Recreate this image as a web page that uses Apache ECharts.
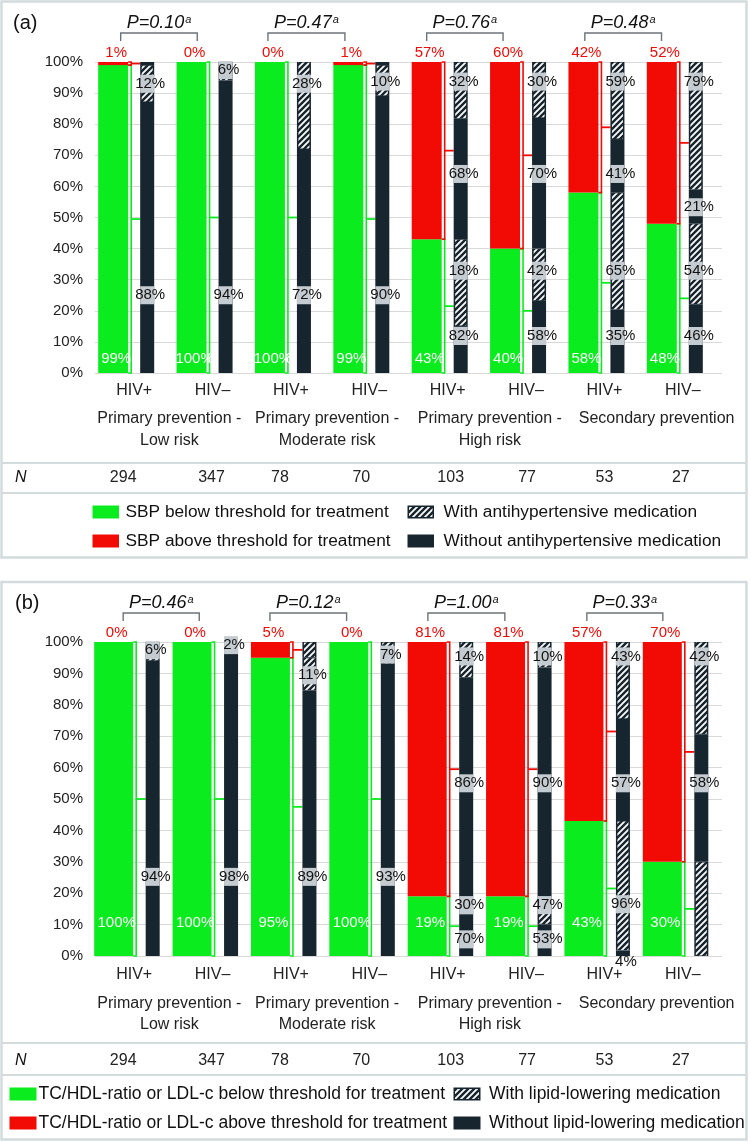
<!DOCTYPE html>
<html><head><meta charset="utf-8">
<script src="https://cdn.jsdelivr.net/npm/echarts@6/dist/echarts.min.js"></script>
<style>html,body{margin:0;padding:0;background:#fff}#c{width:751px;height:1142px}</style>
</head><body><div id="c"></div>
<script>
// ---------------- DATA ----------------
const categories = ['HIV+','HIV\u2013','HIV+','HIV\u2013','HIV+','HIV\u2013','HIV+','HIV\u2013'];
const groupLabels = ['Primary prevention -\nLow risk','Primary prevention -\nModerate risk','Primary prevention -\nHigh risk','Secondary prevention'];
const nValues = ['294','347','78','70','103','77','53','27'];

// Panel (a): SBP
const belowA = [99,100,100,99,43,40,58,48];
const aboveA = [1,0,0,1,57,60,42,52];
const belowWithDrawnA = [12,6,28,10,65,42,65,54];   // hatched share of "below" segment as drawn
const aboveWithDrawnA = [0,0,0,0,32,30,59,79];      // hatched share of "above" segment as drawn
const belowWithLblA = [12,6,28,10,18,42,65,54];
const belowWithoutLblA = [88,94,72,90,82,58,35,46];
const aboveWithLblA = [null,null,null,null,32,30,59,79];
const aboveWithoutLblA = [null,null,null,null,68,70,41,21];
const pValuesA = ['0.10','0.47','0.76','0.48'];
const legendA = ['SBP below threshold for treatment','SBP above threshold for treatment','With antihypertensive medication','Without antihypertensive medication'];

// Panel (b): lipids
const belowB = [100,100,95,100,19,19,43,30];
const aboveB = [0,0,5,0,81,81,57,70];
const belowWithDrawnB = [6,2,11,7,30,47,96,100];
const aboveWithDrawnB = [0,0,100,0,14,10,43,42];
const belowWithLblB = [6,2,11,7,30,47,96,null];
const belowWithoutLblB = [94,98,89,93,70,53,4,null];
const aboveWithLblB = [null,null,null,null,14,10,43,42];
const aboveWithoutLblB = [null,null,null,null,86,90,57,58];
const pValuesB = ['0.46','0.12','1.00','0.33'];
const legendB = ['TC/HDL-ratio or LDL-c below threshold for treatment','TC/HDL-ratio or LDL-c above threshold for treatment','With lipid-lowering medication','Without lipid-lowering medication'];

// ---------------- STYLE / LAYOUT ----------------
const GREEN = '#0bec1f', RED = '#f20a05', DARK = '#17252f', BOX = '#c5ccd1', BORDER = '#d4dbde';
const FONT = "'Liberation Sans', Arial, sans-serif";

function makeHatch() {
  const cv = document.createElement('canvas'); cv.width = 6; cv.height = 6;
  const g = cv.getContext('2d');
  g.fillStyle = DARK; g.fillRect(0,0,6,6);
  g.strokeStyle = '#ffffff'; g.lineWidth = 1.8;
  g.beginPath();
  g.moveTo(-1,7); g.lineTo(7,-1);
  g.moveTo(-4,4); g.lineTo(4,-4);
  g.moveTo(2,10); g.lineTo(10,2);
  g.stroke();
  return cv;
}
const HATCH = makeHatch();

const layoutA = {
  wideL:-36, wideR:-6, brk:3, narL:6, narR:20,
  whiteY:4.5,
  bwY:[93,97.4,93,93.7,32.9,32.9,32.9,32.9],
  bwoY:[25,25,25,25,11.9,11.9,11.9,11.9],
  awY:[0,0,0,0,93.7,93.7,93.7,93.7],
  awoY:[0,0,0,0,64,64,64,53.3],
  pOff:[[-13.5,-15.3],[-23,-24.4],[-21,-23],[-19.6,-21.3]]
};
const layoutB = {
  wideL:-40, wideR:-1, brk:3, narL:11.5, narR:25.5,
  whiteY:10.6,
  bwY:[97.4,99,89.4,96,16.2,16.2,16.5,0],
  bwoY:[25.2,25.2,25.2,25.2,5.3,5.3,-2,0],
  awY:[0,0,0,0,95.4,95.4,95.4,95.4],
  awoY:[0,0,0,0,55,55,55,55],
  pOff:[[-11,-13.3],[-21,-22.7],[-19.8,-21.2],[-17.6,-20]]
};
const nShift = [-11,-1,-11,-8,3,1,0,-2];
const groupShift = [-4,-3,3,13];

const P_A = {below:belowA, above:aboveA, bwd:belowWithDrawnA, awd:aboveWithDrawnA, bwl:belowWithLblA, bwol:belowWithoutLblA, awl:aboveWithLblA, awol:aboveWithoutLblA, p:pValuesA};
const P_B = {below:belowB, above:aboveB, bwd:belowWithDrawnB, awd:aboveWithDrawnB, bwl:belowWithLblB, bwol:belowWithoutLblB, awl:aboveWithLblB, awol:aboveWithoutLblB, p:pValuesB};

function rect(x,y,w,h,fill){ return {type:'rect', shape:{x:x,y:y,width:w,height:h}, style:{fill:fill}}; }

function makeBarRender(P, L) {
  return function(params, api) {
    const i = api.value(0);
    const base = api.coord([i, 0]);
    const cx = base[0], y0 = base[1];
    const yAt = v => api.coord([i, v])[1];
    const below = P.below[i], above = P.above[i];
    const wL = cx + L.wideL, wR = cx + L.wideR, nL = cx + L.narL, nR = cx + L.narR, nW = nR - nL;
    const bx = wR + L.brk;
    const ch = [];
    const yb = yAt(below), yt = yAt(below + above);
    if (below > 0) ch.push(rect(wL, yb, wR - wL, y0 - yb, GREEN));
    if (above > 0) ch.push(rect(wL, yt, wR - wL, yb - yt, RED));
    function bracket(yBot, yTop, color) {
      ch.push({type:'polyline', shape:{points:[[wR,yTop],[bx,yTop],[bx,yBot],[wR,yBot]]}, style:{stroke:color, lineWidth:1.6, fill:null}});
      const ym = (yBot + yTop) / 2;
      ch.push({type:'line', shape:{x1:bx, y1:ym, x2:nL, y2:ym}, style:{stroke:color, lineWidth:1.8}});
    }
    if (below > 0) bracket(y0, yb, GREEN);
    if (above > 0) bracket(yb, yt, RED);
    function seg(from, h, withPct) {
      if (h <= 0) return;
      const woH = h * (100 - withPct) / 100;
      const yA = yAt(from), yB = yAt(from + woH), yC = yAt(from + h);
      if (yA - yB > 0) ch.push(rect(nL, yB, nW, yA - yB, DARK));
      if (withPct > 0) {
        ch.push(rect(nL, yC, nW, yB - yC, DARK));
        ch.push({type:'rect', shape:{x:nL+1.5, y:yC+0.6, width:nW-3, height:Math.max(0, yB-yC-1.2)}, style:{fill:{image:HATCH, repeat:'repeat'}}});
      }
    }
    seg(0, below, P.bwd[i]);
    seg(below, above, P.awd[i]);
    function nlabel(val, yv) {
      if (val === null || val === undefined) return;
      const y = yAt(yv);
      if (yv >= 0) ch.push(rect(nL, y - 9, nW, 18, BOX));
      ch.push({type:'text', style:{text: val + '%', x: nL + nW/2 + 3, y: y, align:'center', verticalAlign:'middle', font:'15px ' + FONT, fill:'#111'}});
    }
    nlabel(P.bwl[i], L.bwY[i]);
    nlabel(P.bwol[i], L.bwoY[i]);
    nlabel(P.awl[i], L.awY[i]);
    nlabel(P.awol[i], L.awoY[i]);
    const wc = (wL + wR) / 2 + 3;
    ch.push({type:'text', style:{text: below + '%', x: wc, y: yAt(L.whiteY), align:'center', verticalAlign:'middle', font:'15px ' + FONT, fill:'#ffffff'}});
    ch.push({type:'text', style:{text: above + '%', x: wc, y: yAt(100) - 9, align:'center', verticalAlign:'middle', font:'15px ' + FONT, fill:RED}});
    return {type:'group', children: ch};
  };
}

function makePRender(P, L) {
  return function(params, api) {
    const g = api.value(2);
    const c1 = api.coord([2*g, 100]), c2 = api.coord([2*g+1, 100]);
    const x1 = c1[0] + L.pOff[g][0], x2 = c2[0] + L.pOff[g][1];
    const top = c1[1];
    const yh = top - 29, yv = top - 21;
    const ch = [];
    ch.push({type:'polyline', shape:{points:[[x1,yv],[x1,yh],[x2,yh],[x2,yv]]}, style:{stroke:'#6d7479', lineWidth:1.4, fill:null}});
    ch.push({type:'text', style:{
      text:'{p|P=' + P.p[g] + '}{s|a}', x:(x1 + x2)/2, y: top - 39, align:'center', verticalAlign:'middle',
      rich:{ p:{fontSize:18, fontStyle:'italic', fontFamily:FONT, fill:'#111'},
             s:{fontSize:11, fontStyle:'italic', fontFamily:FONT, fill:'#111', verticalAlign:'top', padding:[0,0,0,1]} }
    }});
    return {type:'group', children: ch};
  };
}

function xAxesFor(gi, hivMargin, groupMargin, groupLH) {
  return [
    {gridIndex:gi, type:'category', data:categories, axisLine:{show:false}, axisTick:{show:false},
     axisLabel:{interval:0, margin:hivMargin, fontSize:16, fontFamily:FONT, color:'#222', lineHeight:16}},
    {gridIndex:gi, type:'category', data:groupLabels.map((t,k)=>({value:t, textStyle:{padding:[0, groupShift[k] < 0 ? -2*groupShift[k] : 0, 0, groupShift[k] > 0 ? 2*groupShift[k] : 0]}})),
     position:'bottom', axisLine:{show:false}, axisTick:{show:false},
     axisLabel:{interval:0, margin:groupMargin, fontSize:16, fontFamily:FONT, color:'#222', lineHeight:groupLH}},
    {gridIndex:gi, type:'category', data:nValues.map((t,k)=>({value:t, textStyle:{padding:[0, nShift[k] < 0 ? -2*nShift[k] : 0, 0, nShift[k] > 0 ? 2*nShift[k] : 0]}})),
     position:'bottom', axisLine:{show:false}, axisTick:{show:false},
     axisLabel:{interval:0, margin:97, fontSize:16, fontFamily:FONT, color:'#222', lineHeight:16}}
  ];
}
function yAxisFor(gi) {
  return {gridIndex:gi, type:'value', min:0, max:100, interval:10,
    axisLine:{show:false}, axisTick:{show:false},
    splitLine:{lineStyle:{color:'#d9d9d9', width:1}},
    axisLabel:{formatter:'{value}%', fontSize:15, fontFamily:FONT, color:'#222', margin:12}};
}

function legendGraphics(L, rows, sw1x, t1x, sw2x, t2x, swW, fs) {
  const out = [];
  const swatchFills = [GREEN, RED];
  for (let r = 0; r < 2; r++) {
    const y = rows[r];
    out.push({type:'rect', shape:{x:sw1x, y:y-6.5, width:swW, height:13}, style:{fill:swatchFills[r]}});
    out.push({type:'text', style:{text:L[r], x:t1x, y:y, font:fs + 'px ' + FONT, fill:'#111', verticalAlign:'middle'}});
    out.push({type:'rect', shape:{x:sw2x, y:y-6.5, width:swW, height:13}, style:{fill:DARK}});
    if (r === 0) {
      out.push({type:'rect', shape:{x:sw2x+1.5, y:y-5, width:swW-3, height:10}, style:{fill:{image:HATCH, repeat:'repeat'}}});
    }
    out.push({type:'text', style:{text:L[2+r], x:t2x, y:y, font:fs + 'px ' + FONT, fill:'#111', verticalAlign:'middle'}});
  }
  return out;
}

const graphics = [
  {type:'rect', shape:{x:1.5, y:1.5, width:745, height:556}, style:{fill:null, stroke:BORDER, lineWidth:2.5}},
  {type:'line', shape:{x1:1.5, y1:463, x2:746.5, y2:463}, style:{stroke:BORDER, lineWidth:2}},
  {type:'line', shape:{x1:1.5, y1:493, x2:746.5, y2:493}, style:{stroke:BORDER, lineWidth:2}},
  {type:'rect', shape:{x:1.5, y:582, width:745, height:557.5}, style:{fill:null, stroke:BORDER, lineWidth:2.5}},
  {type:'line', shape:{x1:1.5, y1:1043, x2:746.5, y2:1043}, style:{stroke:BORDER, lineWidth:2}},
  {type:'line', shape:{x1:1.5, y1:1075, x2:746.5, y2:1075}, style:{stroke:BORDER, lineWidth:2}},
  {type:'text', style:{text:'(a)', x:13, y:23, font:'20px ' + FONT, fill:'#111', verticalAlign:'middle'}},
  {type:'text', style:{text:'(b)', x:15, y:603, font:'20px ' + FONT, fill:'#111', verticalAlign:'middle'}},
  {type:'text', style:{text:'N', x:15, y:478, font:'italic 16px ' + FONT, fill:'#111', verticalAlign:'middle'}},
  {type:'text', style:{text:'N', x:15, y:1061, font:'italic 16px ' + FONT, fill:'#111', verticalAlign:'middle'}}
].concat(legendGraphics(legendA, [512, 541], 92.5, 125.5, 407.5, 443.5, 26.5, 17.3))
 .concat(legendGraphics(legendB, [1094, 1123], 9.5, 38.5, 453.5, 489, 27, 17.5));

const chart = echarts.init(document.getElementById('c'), null, {renderer:'canvas'});
chart.setOption({
  animation:false,
  backgroundColor:'#ffffff',
  textStyle:{fontFamily:FONT},
  grid:[
    {left:95, top:62, width:627, height:311},
    {left:95, top:642, width:627, height:314}
  ],
  xAxis: xAxesFor(0, 10, 35, 22).concat(xAxesFor(1, 11, 37, 21)),
  yAxis: [yAxisFor(0), yAxisFor(1)],
  graphic: graphics,
  series: [
    {type:'custom', xAxisIndex:0, yAxisIndex:0, renderItem:makeBarRender(P_A, layoutA),
     data: categories.map((c,i)=>[i, belowA[i]]), encode:{x:0, y:1}, clip:false},
    {type:'custom', xAxisIndex:0, yAxisIndex:0, renderItem:makePRender(P_A, layoutA),
     data: pValuesA.map((p,g)=>[2*g, 100, g]), encode:{x:0, y:1}, clip:false},
    {type:'custom', xAxisIndex:3, yAxisIndex:1, renderItem:makeBarRender(P_B, layoutB),
     data: categories.map((c,i)=>[i, belowB[i]]), encode:{x:0, y:1}, clip:false},
    {type:'custom', xAxisIndex:3, yAxisIndex:1, renderItem:makePRender(P_B, layoutB),
     data: pValuesB.map((p,g)=>[2*g, 100, g]), encode:{x:0, y:1}, clip:false}
  ]
});
</script></body></html>
